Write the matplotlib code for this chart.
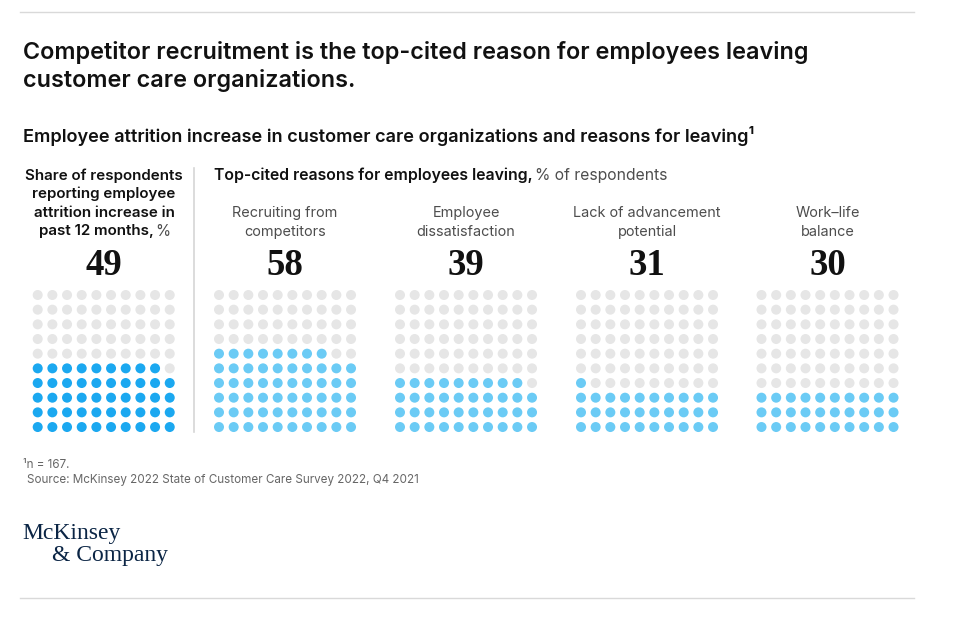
import matplotlib
matplotlib.use('Agg')
import matplotlib.pyplot as plt
import numpy as np

# values
panel_labels = ['Share of respondents\nreporting employee\nattrition increase in\npast 12 months,', 'Recruiting from\ncompetitors',
                'Employee\ndissatisfaction', 'Lack of advancement\npotential', 'Work\u2013life\nbalance']
panel_values = [49, 58, 39, 31, 30]

DARK = '#111111'
GREY = '#4d4d4d'
EMPTY = '#e6e6e6'
BLUE = '#1ba8f0'
LIGHT_BLUE = '#6bcbf5'
FONT = 'Inter'

plt.rcParams['font.family'] = [FONT, 'DejaVu Sans']

fig = plt.figure(figsize=(9.6, 6.39), dpi=100, facecolor='white')
# axes in pixel coordinates of the image
ax = fig.add_axes([0, 0, 1, 1])
ax.set_xlim(0, 960)
ax.set_ylim(639, 0)
ax.axis('off')

# rules at top and bottom
ax.plot([20, 914], [11.5, 11.5], color='#d9d9d9', lw=1)
ax.plot([20, 914], [598, 598], color='#d9d9d9', lw=1)
ax.plot([194, 194], [168, 432], color='#d6d6d6', lw=1.2)

ax.text(23, 52, 'Competitor recruitment is the top-cited reason for employees leaving',
        fontsize=16.85, fontweight='semibold', color=DARK, va='center')
ax.text(23, 81, 'customer care organizations.', fontsize=16.85, fontweight='semibold', color=DARK, va='center')
ax.text(23, 136, 'Employee attrition increase in customer care organizations and reasons for leaving\u00b9',
        fontsize=13.05, fontweight='semibold', color=DARK, va='center')

ax.text(214, 175.5, 'Top-cited reasons for employees leaving,', fontsize=11.4,
        fontweight='semibold', color=DARK, va='center')
ax.text(535, 175.5, '% of respondents', fontsize=11.3, color=GREY, va='center')

# dot panels, filled from the bottom row left to right
panel_x = [37.7, 219, 400, 581, 761.5]
step = 14.67
grid_top = 295
for i, (label, value, x0) in enumerate(zip(panel_labels, panel_values, panel_x)):
    rows, cols = np.divmod(np.arange(100), 10)
    xs = x0 + cols * step
    ys = grid_top + (9 - rows) * step
    on = np.arange(100) < value
    colors = np.where(on, BLUE if i == 0 else LIGHT_BLUE, EMPTY)
    ax.scatter(xs, ys, s=52, c=colors, linewidths=0)

    xc = x0 + 4.5 * step
    ax.text(xc, 265.5, str(value), fontsize=26.5, fontweight='bold', family=['Liberation Serif'],
            color=DARK, ha='center', va='center')
    if i == 0:
        lines = label.split('\n')
        for j, line in enumerate(lines[:3]):
            ax.text(104, 175.5 + j * 18.7, line, fontsize=10.9, fontweight='semibold', color=DARK,
                    ha='center', va='center')
        ax.text(96, 231.5, lines[3], fontsize=10.9, fontweight='semibold', color=DARK, ha='center', va='center')
        ax.text(163, 231.5, '%', fontsize=11, color=GREY, ha='center', va='center')
    else:
        ax.text(xc, 222.5, label, fontsize=10.4, color=GREY, ha='center', va='center', linespacing=1.38)

# footnote and source
ax.text(23, 465.5, '\u00b9n = 167.', fontsize=8.4, color='#666666', va='center')
ax.text(27, 480, 'Source: McKinsey 2022 State of Customer Care Survey 2022, Q4 2021', fontsize=8.4,
        color='#666666', va='center')

# wordmark
ax.text(22, 533, 'McKinsey', fontsize=17, family=['Liberation Serif'], color='#0b2545', va='center')
ax.text(52, 556, '& Company', fontsize=17, family=['Liberation Serif'], color='#0b2545', va='center')

fig.savefig('out.png', dpi=100)
